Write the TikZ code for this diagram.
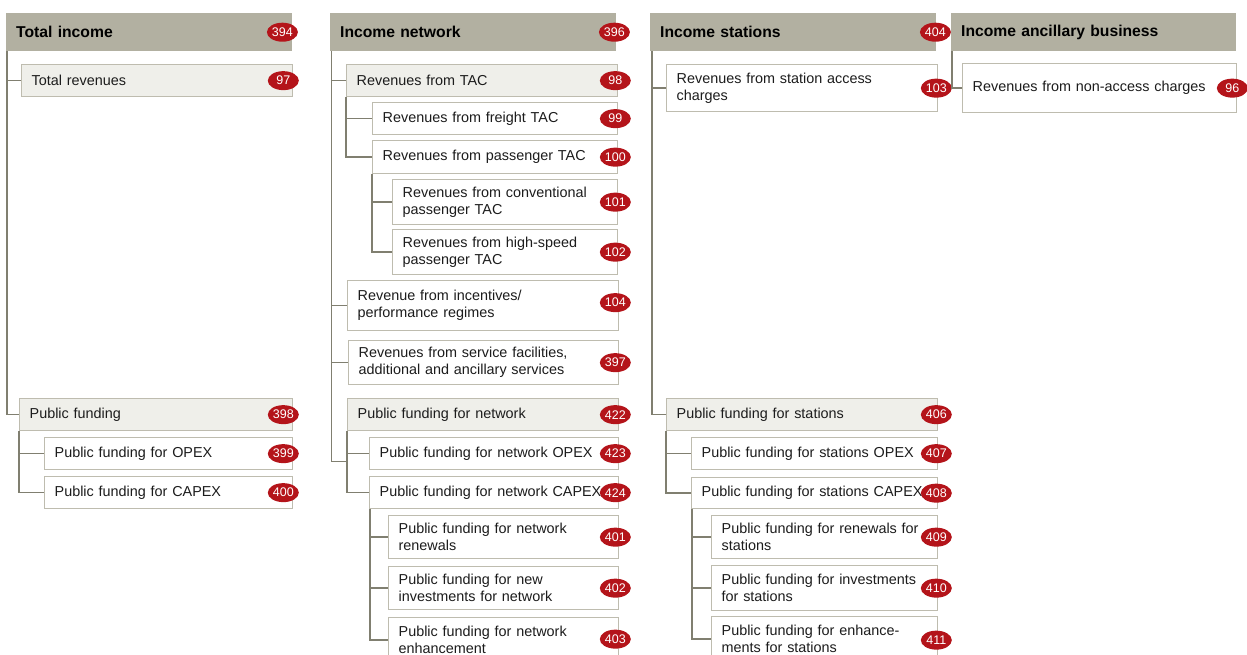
\documentclass[tikz,border=0pt]{standalone}
\usepackage{fontspec}
\setmainfont{Liberation Sans}
\usetikzlibrary{positioning,shapes.geometric}
\definecolor{hdrgray}{RGB}{178,176,161}
\definecolor{grpfill}{RGB}{239,239,234}
\definecolor{boxline}{RGB}{190,188,175}
\definecolor{linkcol}{RGB}{128,127,112}
\definecolor{badgered}{RGB}{180,20,26}
\definecolor{textcol}{RGB}{28,28,28}
\tikzset{
  box/.style={anchor=north west,inner xsep=10pt,inner ysep=0pt,align=left,
    font=\fontsize{14.4}{17}\selectfont,text=textcol},
  hdr/.style={box,fill=hdrgray,text=black,font=\fontsize{15.7}{18}\selectfont\bfseries},
  grp/.style={box,draw=boxline,line width=1.3pt,fill=grpfill},
  itm/.style={box,draw=boxline,line width=1.3pt,fill=white},
  badge/.style={ellipse,fill=badgered,text=white,minimum width=31pt,minimum height=19pt,
    inner sep=0pt,font=\fontsize{12.5}{13}\selectfont},
  link/.style={draw=linkcol,line width=1.4pt}
}

\begin{document}
\begin{tikzpicture}[x=1pt,y=-1pt]
  \useasboundingbox (0,0) rectangle (1247,655);
  \clip (0,0) rectangle (1247,655);

  % total income
  \node[hdr,minimum width=286pt,minimum height=38pt,text width=266pt] (inc) at (6,13) {Total income};
  \node[grp,minimum height=32pt,text width=251pt] (rev) at (21,64) {Total revenues};
  \node[grp,minimum height=32pt,text width=253pt] (pf) at (19,398) {Public funding};
  \node[itm,minimum height=32pt,text width=228pt] (pfo) at (44,437) {Public funding for OPEX};
  \node[itm,minimum height=32pt,text width=228pt] (pfc) at (44,476) {Public funding for CAPEX};
  \draw[link] ([xshift=1pt]inc.south west) |- (rev.west);
  \draw[link] ([xshift=1pt]inc.south west) |- (pf.west);
  \draw[link] (pf.south west) |- (pfo.west);
  \draw[link] (pf.south west) |- (pfc.west);
  \node[badge] (b394) at ([xshift=-10pt]inc.east) {394};
  \node[badge] (b97) at ([xshift=-10pt]rev.east) {97};
  \node[badge] (b398) at ([xshift=-10pt]pf.east) {398};
  \node[badge] (b399) at ([xshift=-10pt]pfo.east) {399};
  \node[badge] (b400) at ([xshift=-10pt]pfc.east) {400};

  % income network
  \node[hdr,minimum width=286pt,minimum height=38pt,text width=266pt] (net) at (330,13) {Income network};
  \node[grp,minimum height=32pt,text width=251pt] (tac) at (346,64) {Revenues from TAC};
  \node[itm,minimum height=32pt,text width=225pt] (tacf) at (372,102) {Revenues from freight TAC};
  \node[itm,minimum height=33pt,text width=225pt] (tacp) at (372,140) {Revenues from passenger TAC};
  \node[itm,minimum height=45pt,text width=205pt] (tacc) at (392,179) {Revenues from conventional\\passenger TAC};
  \node[itm,minimum height=45pt,text width=205pt] (tach) at (392,229) {Revenues from high-speed\\passenger TAC};
  \node[itm,minimum height=50pt,text width=251pt] (incp) at (347,280) {Revenue from incentives/\\performance regimes};
  \node[itm,minimum height=44pt,text width=250pt] (svc) at (348,340) {Revenues from service facilities,\\additional and ancillary services};
  \node[grp,minimum height=32pt,text width=251pt] (pfn) at (347,398) {Public funding for network};
  \node[itm,minimum height=32pt,text width=229pt] (pfno) at (369,437) {Public funding for network OPEX};
  \node[itm,minimum height=32pt,text width=229pt] (pfnc) at (369,476) {Public funding for network CAPEX};
  \node[itm,minimum height=43pt,text width=210pt] (pfnr) at (388,515) {Public funding for network\\renewals};
  \node[itm,minimum height=43pt,text width=210pt] (pfni) at (388,566) {Public funding for new\\investments for network};
  \node[itm,minimum height=45pt,text width=210pt] (pfne) at (388,617) {Public funding for network\\enhancement};
  \coordinate (jn) at ([yshift=-30pt]pfn.south west);
  \draw[link] ([xshift=1.7pt]net.south west) |- (tac.west);
  \draw[link] ([xshift=1.7pt]net.south west) |- (incp.west);
  \draw[link] ([xshift=1.7pt]net.south west) |- (svc.west);
  \draw[link] ([xshift=1.7pt]net.south west) |- (jn);
  \draw[link] (tac.south west) |- (tacf.west);
  \draw[link] (tac.south west) |- (tacp.west);
  \draw[link] (tacp.south west) |- (tacc.west);
  \draw[link] (tacp.south west) |- (tach.west);
  \draw[link] (pfn.south west) |- (pfno.west);
  \draw[link] (pfn.south west) |- (pfnc.west);
  \draw[link] ([xshift=1pt]pfnc.south west) |- (pfnr.west);
  \draw[link] ([xshift=1pt]pfnc.south west) |- (pfni.west);
  \draw[link] ([xshift=1pt]pfnc.south west) |- (pfne.west);
  \node[badge] (b396) at ([xshift=-2pt]net.east) {396};
  \node[badge] (b98) at ([xshift=-3pt]tac.east) {98};
  \node[badge] (b99) at ([xshift=-3pt]tacf.east) {99};
  \node[badge] (b100) at ([xshift=-3pt]tacp.east) {100};
  \node[badge] (b101) at ([xshift=-3pt]tacc.east) {101};
  \node[badge] (b102) at ([xshift=-3pt]tach.east) {102};
  \node[badge] (b104) at ([xshift=-4pt,yshift=3pt]incp.east) {104};
  \node[badge] (b397) at ([xshift=-4pt]svc.east) {397};
  \node[badge] (b422) at ([xshift=-4pt]pfn.east) {422};
  \node[badge] (b423) at ([xshift=-4pt]pfno.east) {423};
  \node[badge] (b424) at ([xshift=-4pt]pfnc.east) {424};
  \node[badge] (b401) at ([xshift=-4pt]pfnr.east) {401};
  \node[badge] (b402) at ([xshift=-4pt]pfni.east) {402};
  \node[badge] (b403) at ([xshift=-4pt,yshift=1pt]pfne.east) {403};

  % income stations
  \node[hdr,minimum width=286pt,minimum height=38pt,text width=266pt] (sta) at (650,13) {Income stations};
  \node[itm,minimum height=47pt,text width=251pt] (sac) at (666,64) {Revenues from station access\\charges};
  \node[grp,minimum height=32pt,text width=251pt] (pfs) at (666,398) {Public funding for stations};
  \node[itm,minimum height=32pt,text width=226pt] (pfso) at (691,437) {Public funding for stations OPEX};
  \node[itm,minimum height=31pt,text width=226pt] (pfsc) at (691,477) {Public funding for stations CAPEX};
  \node[itm,minimum height=43pt,text width=206pt] (pfsr) at (711,515) {Public funding for renewals for\\stations};
  \node[itm,minimum height=45pt,text width=206pt] (pfsi) at (711,565) {Public funding for investments\\for stations};
  \node[itm,minimum height=45pt,text width=206pt] (pfse) at (711,616) {Public funding for enhance-\\ments for stations};
  \draw[link] ([xshift=2pt]sta.south west) |- (sac.west);
  \draw[link] ([xshift=2pt]sta.south west) |- (pfs.west);
  \draw[link] (pfs.south west) |- (pfso.west);
  \draw[link] (pfs.south west) |- (pfsc.west);
  \draw[link] ([xshift=1pt]pfsc.south west) |- (pfsr.west);
  \draw[link] ([xshift=1pt]pfsc.south west) |- (pfsi.west);
  \draw[link] ([xshift=1pt]pfsc.south west) |- (pfse.west);
  \node[badge] (b404) at ([xshift=-1pt]sta.east) {404};
  \node[badge] (b103) at ([xshift=-2pt]sac.east) {103};
  \node[badge] (b406) at ([xshift=-2pt]pfs.east) {406};
  \node[badge] (b407) at ([xshift=-2pt]pfso.east) {407};
  \node[badge] (b408) at ([xshift=-2pt]pfsc.east) {408};
  \node[badge] (b409) at ([xshift=-2pt]pfsr.east) {409};
  \node[badge] (b410) at ([xshift=-2pt]pfsi.east) {410};
  \node[badge] (b411) at ([xshift=-2pt,yshift=-1pt]pfse.east) {411};

  % income ancillary business
  \node[hdr,minimum width=285pt,minimum height=38pt,text width=265pt] (anc) at (951,13) {Income ancillary business};
  \node[itm,minimum height=49pt,text width=254pt] (nac) at (962,63) {Revenues from non-access charges};
  \draw[link] ([xshift=1pt]anc.south west) |- (nac.west);
  \node[badge] (b96) at ([xshift=-5pt]nac.east) {96};
\end{tikzpicture}
\end{document}
